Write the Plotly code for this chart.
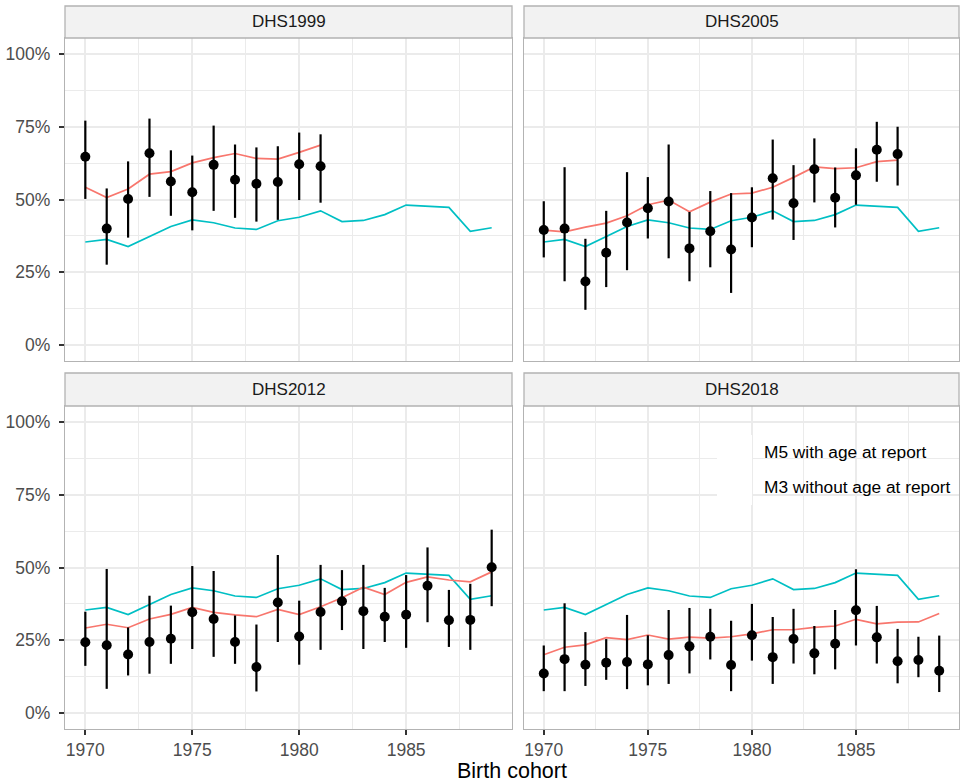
import plotly.graph_objects as go

# ---------------- data ----------------
years = list(range(1970, 1990))
panels = ["DHS1999", "DHS2005", "DHS2012", "DHS2018"]

# M3 without age at report (same line in every panel)
m3_line = [35.4, 36.3, 33.8, 37.3, 40.7, 43.0, 42.0, 40.2, 39.7, 42.7,
           43.9, 46.1, 42.4, 42.8, 44.8, 48.1, 47.8, 47.3, 39.1, 40.3]

# DHS1999 (1970-1981)
dhs1999_est = [64.7, 40.0, 50.2, 65.9, 56.2, 52.5, 61.9, 56.8, 55.4, 56.0, 62.1, 61.4]
dhs1999_lo = [50.2, 27.6, 36.9, 50.9, 44.4, 39.4, 46.1, 43.7, 42.4, 43.0, 49.8, 48.9]
dhs1999_hi = [77.1, 53.8, 63.1, 77.8, 66.9, 65.1, 75.4, 68.9, 67.9, 68.3, 73.0, 72.4]
dhs1999_m5 = [54.2, 50.7, 53.6, 58.7, 59.6, 62.6, 64.4, 65.8, 64.1, 63.9, 66.2, 68.7]

# DHS2005 (1970-1987)
dhs2005_est = [39.5, 40.0, 21.8, 31.7, 42.1, 47.0, 49.3, 33.2, 39.1, 32.8,
               43.8, 57.3, 48.7, 60.4, 50.6, 58.3, 67.1, 65.6]
dhs2005_lo = [30.1, 21.9, 12.1, 19.9, 25.7, 36.6, 29.8, 21.9, 26.7, 17.9,
              33.6, 43.1, 36.1, 49.0, 40.4, 48.2, 56.1, 54.8]
dhs2005_hi = [49.4, 61.1, 36.5, 46.1, 59.4, 57.7, 68.9, 45.7, 52.9, 52.2,
              54.2, 70.6, 61.8, 71.0, 61.0, 67.6, 76.7, 75.0]
dhs2005_m5 = [39.5, 38.9, 40.5, 41.9, 44.4, 48.2, 49.8, 45.8, 49.1, 51.9,
              52.2, 54.2, 57.6, 61.2, 60.6, 60.9, 63.0, 63.5]

# DHS2012 (1970-1989)
dhs2012_est = [24.3, 23.3, 20.1, 24.4, 25.5, 34.6, 32.3, 24.4, 15.8, 38.0,
               26.3, 34.7, 38.4, 35.0, 33.1, 33.8, 43.7, 31.9, 32.0, 50.1]
dhs2012_lo = [16.2, 8.3, 12.9, 13.5, 16.9, 22.0, 19.3, 16.9, 7.4, 24.4,
              16.6, 21.7, 28.5, 22.0, 24.4, 22.4, 31.2, 22.7, 21.7, 36.7]
dhs2012_hi = [34.8, 49.5, 29.4, 40.3, 36.9, 50.5, 48.8, 33.5, 30.4, 54.3,
              38.6, 50.9, 49.1, 50.9, 43.0, 47.4, 56.9, 42.3, 44.4, 63.0]
dhs2012_m5 = [29.2, 30.5, 29.3, 32.3, 33.9, 36.3, 34.6, 33.7, 33.1, 35.6,
              33.8, 36.5, 39.6, 43.2, 40.7, 44.9, 46.8, 45.7, 45.1, 48.5]

# DHS2018 (1970-1989)
dhs2018_est = [13.6, 18.5, 16.6, 17.3, 17.5, 16.7, 19.9, 22.9, 26.2, 16.5,
               26.7, 19.2, 25.4, 20.5, 23.8, 35.3, 26.0, 17.8, 18.2, 14.5]
dhs2018_lo = [7.5, 7.5, 9.3, 11.4, 8.2, 9.5, 10.0, 13.6, 18.4, 7.5,
              18.0, 10.0, 17.0, 13.3, 15.0, 23.2, 17.0, 10.2, 12.3, 7.2]
dhs2018_hi = [23.2, 37.7, 27.8, 25.4, 33.7, 26.7, 35.4, 36.1, 35.8, 31.7,
              37.5, 33.0, 35.8, 29.9, 35.4, 49.4, 36.8, 28.9, 26.2, 26.6]
dhs2018_m5 = [20.0, 22.6, 23.4, 25.9, 25.2, 26.8, 25.4, 26.1, 25.7, 26.2,
              27.2, 28.6, 28.6, 29.4, 29.9, 32.2, 30.6, 31.2, 31.3, 34.2]

legend_names = ["M5 with age at report", "M3 without age at report"]
x_ticks = [1970, 1975, 1980, 1985]
x_ticklabels = ["1970", "1975", "1980", "1985"]
y_ticks = [0, 25, 50, 75, 100]
y_ticklabels = ["0%", "25%", "50%", "75%", "100%"]

series = [
    (dhs1999_est, dhs1999_lo, dhs1999_hi, dhs1999_m5),
    (dhs2005_est, dhs2005_lo, dhs2005_hi, dhs2005_m5),
    (dhs2012_est, dhs2012_lo, dhs2012_hi, dhs2012_m5),
    (dhs2018_est, dhs2018_lo, dhs2018_hi, dhs2018_m5),
]

# ---------------- layout geometry ----------------
W, H = 960, 783
ML, MR, MT, MB = 65, 1, 6, 54
PW, PH = W - ML - MR, H - MT - MB

def px_x(p):
    return (p - ML) / PW

def px_y(p):
    return (H - MB - p) / PH

col_dom = [[px_x(65), px_x(512)], [px_x(524), 1.0]]
row_dom = [[px_y(361), px_y(38)], [0.0, px_y(406)]]
strip_dom = [[px_y(38), px_y(6)], [px_y(406), px_y(373)]]

RED = "#F8766D"
CYAN = "#00BFC4"
GRID = "#EBEBEB"
BORDER = "#B3B3B3"
FONT = "Liberation Sans, Arial, sans-serif"

fig = go.Figure()

for i, (est, lo, hi, m5) in enumerate(series):
    ax = "" if i == 0 else str(i + 1)
    n = len(est)
    yrs = years[:n]
    fig.add_trace(go.Scatter(x=years, y=m3_line, mode="lines",
                             line=dict(color=CYAN, width=1.7),
                             name=legend_names[1], showlegend=False,
                             xaxis="x" + ax, yaxis="y" + ax))
    fig.add_trace(go.Scatter(x=yrs, y=m5, mode="lines",
                             line=dict(color=RED, width=1.7),
                             name=legend_names[0], showlegend=False,
                             xaxis="x" + ax, yaxis="y" + ax))
    fig.add_trace(go.Scatter(
        x=yrs, y=est, mode="markers",
        marker=dict(color="black", size=10),
        error_y=dict(type="data", symmetric=False,
                     array=[h - e for h, e in zip(hi, est)],
                     arrayminus=[e - l for e, l in zip(est, lo)],
                     color="black", thickness=2.2, width=0),
        showlegend=False, name=panels[i],
        xaxis="x" + ax, yaxis="y" + ax))

layout = dict(
    width=W, height=H,
    margin=dict(l=ML, r=MR, t=MT, b=MB, pad=0),
    paper_bgcolor="white", plot_bgcolor="white",
    font=dict(family=FONT),
    showlegend=False,
)

shapes = []
annotations = []
for i in range(4):
    r, c = divmod(i, 2)
    key = "" if i == 0 else str(i + 1)
    xa = dict(
        domain=col_dom[c], range=[1969.05, 1989.95],
        anchor="y" + key,
        tickmode="array", tickvals=x_ticks, ticktext=x_ticklabels,
        showgrid=True, gridcolor=GRID, gridwidth=1.7,
        minor=dict(tickvals=[1972.5, 1977.5, 1982.5, 1987.5], showgrid=True,
                   gridcolor=GRID, gridwidth=0.9, ticks=""),
        showline=True, linecolor=BORDER, linewidth=1.3, mirror=True,
        zeroline=False,
        tickfont=dict(size=17.5, color="#4D4D4D", family=FONT),
    )
    if r == 1:
        xa.update(ticks="outside", ticklen=5, tickwidth=1.6, tickcolor="#333333",
                  showticklabels=True, ticklabelstandoff=0)
    else:
        xa.update(ticks="", showticklabels=False)
    ya = dict(
        domain=row_dom[r], range=[-5.5, 105.5],
        anchor="x" + key,
        tickmode="array", tickvals=y_ticks, ticktext=y_ticklabels,
        showgrid=True, gridcolor=GRID, gridwidth=1.7,
        minor=dict(tickvals=[12.5, 37.5, 62.5, 87.5], showgrid=True,
                   gridcolor=GRID, gridwidth=0.9, ticks=""),
        showline=True, linecolor=BORDER, linewidth=1.3, mirror=True,
        zeroline=False,
        tickfont=dict(size=17.5, color="#4D4D4D", family=FONT),
    )
    if c == 0:
        ya.update(ticks="outside", ticklen=5, tickwidth=1.6, tickcolor="#333333",
                  showticklabels=True, ticklabelstandoff=5)
    else:
        ya.update(ticks="", showticklabels=False)
    layout["xaxis" + key] = xa
    layout["yaxis" + key] = ya

    # strip
    shapes.append(dict(type="rect", xref="paper", yref="paper",
                       x0=col_dom[c][0], x1=col_dom[c][1],
                       y0=strip_dom[r][0], y1=strip_dom[r][1],
                       fillcolor="#F2F2F2", line=dict(color=BORDER, width=1.3),
                       layer="above"))
    annotations.append(dict(text=panels[i], xref="paper", yref="paper",
                            x=(col_dom[c][0] + col_dom[c][1]) / 2,
                            y=(strip_dom[r][0] + strip_dom[r][1]) / 2,
                            xanchor="center", yanchor="middle", showarrow=False,
                            font=dict(size=17, color="#1A1A1A", family=FONT)))

# legend (inside DHS2018 panel): blank white keys + labels
shapes.append(dict(type="rect", xref="paper", yref="paper",
                   x0=px_x(717), x1=px_x(752), y0=px_y(505), y1=px_y(435),
                   fillcolor="white", line=dict(width=0), layer="above"))
for name, yp in zip(legend_names, [452, 487]):
    annotations.append(dict(text=name, xref="paper", yref="paper",
                            x=px_x(762), y=px_y(yp), xanchor="left", yanchor="middle",
                            showarrow=False,
                            font=dict(size=17.3, color="black", family=FONT)))

# x-axis title
annotations.append(dict(text="Birth cohort", xref="paper", yref="paper",
                        x=(px_x(65) + 1.0) / 2, y=px_y(771),
                        xanchor="center", yanchor="middle", showarrow=False,
                        font=dict(size=21.5, color="black", family=FONT)))

layout["shapes"] = shapes
layout["annotations"] = annotations
fig.update_layout(**layout)

fig.write_html("out.html", config={"displayModeBar": False},
               post_script="document.body.style.margin='0px';document.body.style.overflow='hidden';")
